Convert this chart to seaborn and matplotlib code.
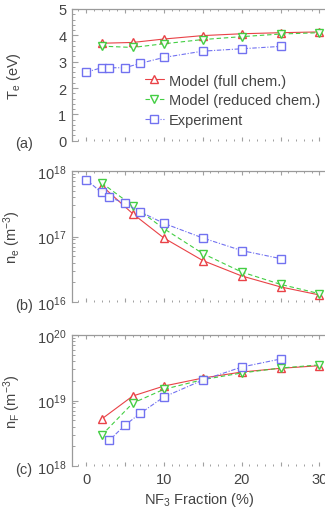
import numpy as np
import pandas as pd
import matplotlib
matplotlib.use("Agg")
import matplotlib.pyplot as plt
import seaborn as sns
from matplotlib.ticker import MultipleLocator, LogLocator, NullFormatter

# ---------------- data ----------------
x_model = [2, 6, 10, 15, 20, 25, 30]
x_exp = [0, 2, 3, 5, 7, 10, 15, 20, 25]
x_exp_nf = [3, 5, 7, 10, 15, 20, 25]

te_full = [3.70, 3.73, 3.86, 3.99, 4.06, 4.10, 4.13]
te_red = [3.59, 3.54, 3.68, 3.84, 3.95, 4.05, 4.10]
te_exp = [2.60, 2.77, 2.77, 2.77, 2.94, 3.16, 3.40, 3.49, 3.58]

ne_full = [6.0e17, 2.23e17, 9.5e16, 4.3e16, 2.5e16, 1.7e16, 1.28e16]
ne_red = [6.6e17, 2.95e17, 1.32e17, 5.5e16, 2.87e16, 1.86e16, 1.34e16]
ne_exp = [7.4e17, 4.7e17, 4.0e17, 3.2e17, 2.37e17, 1.59e17, 9.5e16, 6.1e16, 4.6e16]

nf_full = [5.2e18, 1.17e19, 1.66e19, 2.2e19, 2.72e19, 3.1e19, 3.4e19]
nf_red = [2.94e18, 9.1e18, 1.48e19, 2.08e19, 2.63e19, 3.13e19, 3.5e19]
nf_exp = [2.47e18, 4.2e18, 6.4e18, 1.13e19, 2.05e19, 3.24e19, 4.3e19]

series_names = ["Model (full chem.)", "Model (reduced chem.)", "Experiment"]
panel_labels = ["(a)", "(b)", "(c)"]
ylabels = ["T$_{\\rm e}$ (eV)", "n$_{\\rm e}$ (m$^{-3}$)", "n$_{\\rm F}$ (m$^{-3}$)"]
xlabel = "NF$_3$ Fraction (%)"

# ---------------- style ----------------
sns.set_theme(style="white")
plt.rcParams["font.family"] = ["Liberation Sans", "DejaVu Sans"]
plt.rcParams["mathtext.fontset"] = "custom"
plt.rcParams["mathtext.rm"] = "Liberation Sans"
plt.rcParams["mathtext.it"] = "Liberation Sans"
TXT = "#444444"
SP = "#9a9a9a"

styles = [
    dict(color="#e8383d", linestyle="-", marker="^"),
    dict(color="#3acc3a", linestyle=(0, (4, 2.5)), marker="v"),
    dict(color="#6a6af0", linestyle=(0, (4, 1.5, 1, 1.5)), marker="s"),
]

fig = plt.figure(figsize=(3.25, 5.10), dpi=100)
W, H = 325.0, 510.0
left = 72 / W
width = 1.0 - left + 0.002
boxes = [(10, 141.7), (172, 303), (336, 467)]
axes = []
for top, bot in boxes:
    axes.append(fig.add_axes([left, 1 - bot / H, width, (bot - top) / H]))

panels = [
    [(x_model, te_full), (x_model, te_red), (x_exp, te_exp)],
    [(x_model, ne_full), (x_model, ne_red), (x_exp, ne_exp)],
    [(x_model, nf_full), (x_model, nf_red), (x_exp_nf, nf_exp)],
]

for i, ax in enumerate(axes):
    for j, (xs, ys) in enumerate(panels[i]):
        df = pd.DataFrame({"x": xs, "y": ys})
        st = styles[j]
        sns.lineplot(data=df, x="x", y="y", ax=ax, sort=False,
                     color=st["color"], linestyle=st["linestyle"], linewidth=0.8,
                     marker=st["marker"], markersize=5.5, markerfacecolor="white",
                     markeredgecolor=st["color"], markeredgewidth=1.0,
                     label=series_names[j] if i == 0 else None, legend=False,
                     alpha=0.95)
    ax.set_xlim(-1.8, 30.8)
    ax.set_xlabel("")
    ax.set_ylabel(ylabels[i], color=TXT, fontsize=10.5)
    ax.yaxis.set_label_coords(-0.195, 0.5)
    for s in ["right", "bottom"]:
        ax.spines[s].set_visible(False)
    for s in ["left", "top"]:
        ax.spines[s].set_color(SP)
        ax.spines[s].set_linewidth(0.9)
    ax.set_xticks([0, 5, 10, 15, 20, 25, 30])
    ax.xaxis.set_minor_locator(MultipleLocator(1))
    ax.tick_params(axis="x", which="both", direction="in", top=True, bottom=True,
                   colors="#a0a0a0", labelcolor=TXT, labelsize=10.5)
    ax.tick_params(axis="x", which="major", length=3, width=0.8, pad=4)
    ax.tick_params(axis="x", which="minor", length=1.5, width=0.7)
    ax.tick_params(axis="y", which="both", direction="in", left=True, right=False,
                   colors="#a0a0a0", labelcolor=TXT, labelsize=10.5, pad=4)
    ax.tick_params(axis="y", which="major", length=4, width=0.8)
    ax.tick_params(axis="y", which="minor", length=2, width=0.7)
    if i < 2:
        ax.tick_params(axis="x", labelbottom=False)
    ax.text(-0.225, -0.02, panel_labels[i], transform=ax.transAxes,
            ha="left", va="center", fontsize=10.5, color=TXT)

# panel a
axes[0].set_ylim(0, 5)
axes[0].yaxis.set_major_locator(MultipleLocator(1))
axes[0].yaxis.set_minor_locator(MultipleLocator(0.2))

# log panels
for ax, lo, hi in [(axes[1], 1e16, 1e18), (axes[2], 1e18, 1e20)]:
    ax.set_yscale("log")
    ax.set_ylim(lo, hi)
    ax.yaxis.set_major_locator(LogLocator(base=10, numticks=10))
    ax.yaxis.set_minor_locator(LogLocator(base=10, subs=np.arange(2, 10), numticks=20))
    ax.yaxis.set_minor_formatter(NullFormatter())

axes[2].set_xlabel(xlabel, color=TXT, fontsize=10.5, labelpad=3)
axes[2].set_xticks([0, 5, 10, 15, 20, 25, 30])
axes[2].set_xticklabels(["0", "", "10", "", "20", "", "30"])

leg = axes[0].legend(loc="upper left", bbox_to_anchor=(0.289, 0.51), frameon=False,
                     fontsize=10.5, handlelength=1.25, handletextpad=0.35,
                     labelspacing=0.4, borderaxespad=0, borderpad=0)
for t in leg.get_texts():
    t.set_color(TXT)

fig.savefig("out.png", dpi=100)
